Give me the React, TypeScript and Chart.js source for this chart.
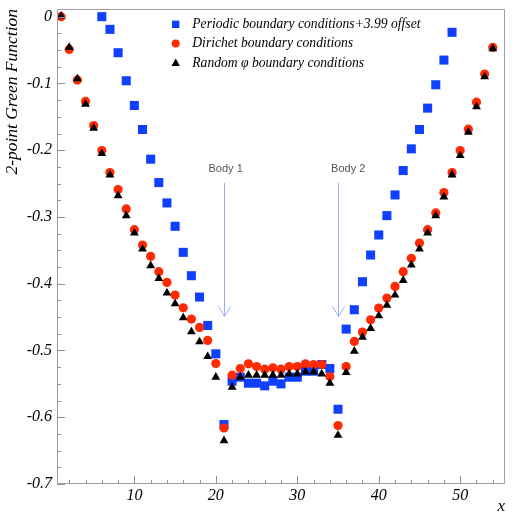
import React, { useEffect, useRef } from 'react';
import { Chart, registerables } from 'chart.js';

Chart.register(...registerables);

// ---- data ----
const xDirichlet = [1, 2, 3, 4, 5, 6, 7, 8, 9, 10, 11, 12, 13, 14, 15, 16, 17, 18, 19, 20, 21, 22, 23, 24, 25, 26, 27, 28, 29, 30, 31, 32, 33, 34, 35, 36, 37, 38, 39, 40, 41, 42, 43, 44, 45, 46, 47, 48, 49, 50, 51, 52, 53, 54];
const yDirichlet = [0, -0.049, -0.095, -0.127, -0.163, -0.2005, -0.2335, -0.259, -0.288, -0.319, -0.342, -0.359, -0.382, -0.398, -0.417, -0.436, -0.453, -0.4655, -0.485, -0.5195, -0.616, -0.537, -0.527, -0.52, -0.524, -0.528, -0.526, -0.528, -0.524, -0.524, -0.52, -0.521, -0.521, -0.539, -0.6125, -0.524, -0.4865, -0.4725, -0.454, -0.4365, -0.4215, -0.404, -0.382, -0.362, -0.339, -0.319, -0.294, -0.2635, -0.2335, -0.2005, -0.1685, -0.128, -0.086, -0.046];

const xRandom = [1, 2, 3, 4, 5, 6, 7, 8, 9, 10, 11, 12, 13, 14, 15, 16, 17, 18, 19, 20, 21, 22, 23, 24, 25, 26, 27, 28, 29, 30, 31, 32, 33, 34, 35, 36, 37, 38, 39, 40, 41, 42, 43, 44, 45, 46, 47, 48, 49, 50, 51, 52, 53, 54];
const yRandom = [0.001, -0.046, -0.093, -0.131, -0.167, -0.205, -0.237, -0.268, -0.298, -0.324, -0.348, -0.373, -0.392, -0.414, -0.43, -0.451, -0.472, -0.487, -0.509, -0.54, -0.635, -0.555, -0.54, -0.537, -0.537, -0.537, -0.537, -0.537, -0.535, -0.535, -0.532, -0.532, -0.535, -0.549, -0.627, -0.533, -0.501, -0.48, -0.467, -0.448, -0.432, -0.417, -0.395, -0.372, -0.348, -0.324, -0.298, -0.27, -0.237, -0.208, -0.173, -0.135, -0.09, -0.048];

const xPeriodic = [6, 7, 8, 9, 10, 11, 12, 13, 14, 15, 16, 17, 18, 19, 20, 21, 22, 23, 24, 25, 26, 27, 28, 29, 30, 31, 32, 33, 34, 35, 36, 37, 38, 39, 40, 41, 42, 43, 44, 45, 46, 47, 48, 49];
const yPeriodic = [0, -0.019, -0.054, -0.096, -0.133, -0.169, -0.2135, -0.2485, -0.279, -0.314, -0.353, -0.388, -0.42, -0.4625, -0.505, -0.611, -0.546, -0.54, -0.549, -0.549, -0.553, -0.546, -0.55, -0.54, -0.54, -0.531, -0.531, -0.521, -0.527, -0.588, -0.468, -0.439, -0.397, -0.357, -0.327, -0.298, -0.267, -0.2305, -0.198, -0.169, -0.137, -0.102, -0.065, -0.0234];

const seriesLabels = [
  'Periodic boundary conditions+3.99 offset',
  'Dirichet boundary conditions',
  'Random \u03c6 boundary conditions',
];
const seriesColors = ['#1040ff', '#ff2a00', '#000000'];

const xMajorTicks = [10, 20, 30, 40, 50];
const yMajorTicks = [0, -0.1, -0.2, -0.3, -0.4, -0.5, -0.6, -0.7];

const bodyLabels = ['Body 1', 'Body 2'];
const bodyX = [21, 35];
const bodyLabelX = [19.1, 34.15];
const bodyLabelY = -0.232;
const arrowTopY = -0.249;
const arrowTipY = -0.449;

const X_MIN = 0.5;
const X_MAX = 55.5;
const Y_MIN = -0.7;
const Y_MAX = 0.0115;

const SERIF = '"Liberation Serif", "Times New Roman", serif';

const toPoints = (xs: number[], ys: number[]) => xs.map((x, i) => ({ x, y: ys[i] }));

const framePlugin = {
  id: 'frameTicks',
  afterDraw(chart: any) {
    const { ctx, chartArea } = chart;
    const xs = chart.scales.x;
    const ys = chart.scales.y;
    const { left, right, top, bottom } = chartArea;
    ctx.save();
    ctx.strokeStyle = '#a0a0a0';
    ctx.lineWidth = 1;
    ctx.beginPath();
    ctx.rect(left + 0.5, top + 0.5, right - left - 1, bottom - top - 1);
    ctx.stroke();
    ctx.strokeStyle = '#909090';
    ctx.beginPath();
    // y ticks: major every 0.1, minor every 0.025
    for (let k = 0; k <= 28; k++) {
      const v = -k * 0.025;
      const py = Math.round(ys.getPixelForValue(v)) + 0.5;
      const len = k % 4 === 0 ? 8 : 4;
      ctx.moveTo(left, py);
      ctx.lineTo(left + len, py);
    }
    // x ticks: major every 10, minor every 2
    for (let v = 2; v <= 54; v += 2) {
      const px = Math.round(xs.getPixelForValue(v)) + 0.5;
      const len = v % 10 === 0 ? 8 : 4;
      ctx.moveTo(px, bottom);
      ctx.lineTo(px, bottom - len);
    }
    ctx.stroke();

    // body arrows
    ctx.strokeStyle = '#9cadff';
    ctx.beginPath();
    bodyX.forEach((bx) => {
      const px = Math.round(xs.getPixelForValue(bx)) + 0.5;
      const y0 = ys.getPixelForValue(arrowTopY);
      const y1 = ys.getPixelForValue(arrowTipY);
      ctx.moveTo(px, y0);
      ctx.lineTo(px, y1);
      ctx.moveTo(px - 6, y1 - 10);
      ctx.lineTo(px, y1);
      ctx.lineTo(px + 6, y1 - 10);
    });
    ctx.stroke();
    ctx.fillStyle = '#555555';
    ctx.font = '11px "Liberation Sans", Arial, sans-serif';
    ctx.textAlign = 'left';
    ctx.textBaseline = 'alphabetic';
    bodyLabels.forEach((t, i) => {
      ctx.fillText(t, xs.getPixelForValue(bodyLabelX[i]), ys.getPixelForValue(bodyLabelY));
    });

    // legend
    const lx = 175.7;
    const rows = [24.3, 43.5, 62.8];
    ctx.fillStyle = seriesColors[0];
    ctx.fillRect(lx - 3.7, rows[0] - 3.7, 7.4, 7.4);
    ctx.fillStyle = seriesColors[1];
    ctx.beginPath();
    ctx.arc(lx, rows[1], 4, 0, Math.PI * 2);
    ctx.fill();
    ctx.fillStyle = seriesColors[2];
    ctx.beginPath();
    ctx.moveTo(lx, rows[2] - 4.2);
    ctx.lineTo(lx + 4.2, rows[2] + 3.2);
    ctx.lineTo(lx - 4.2, rows[2] + 3.2);
    ctx.closePath();
    ctx.fill();
    ctx.fillStyle = '#000';
    ctx.font = `italic 13.6px ${SERIF}`;
    ctx.textBaseline = 'alphabetic';
    seriesLabels.forEach((t, i) => {
      ctx.fillText(t, 192.3, rows[i] + 3.8);
    });
    ctx.restore();
  },
};

const zeroPad = (s: any) => {
  s.paddingTop = 0;
  s.paddingBottom = 0;
  s.paddingLeft = 0;
  s.paddingRight = 0;
};

export default function App() {
  const ref = useRef<HTMLCanvasElement | null>(null);
  useEffect(() => {
    if (!ref.current) return;
    const tickFont = { family: SERIF, style: 'italic' as const, size: 16 };
    const chart = new Chart(ref.current, {
      type: 'scatter',
      data: {
        datasets: [
          {
            label: seriesLabels[2],
            data: toPoints(xRandom, yRandom),
            pointStyle: 'triangle',
            pointRadius: 5.1,
            backgroundColor: seriesColors[2],
            borderColor: seriesColors[2],
            borderWidth: 0,
            order: 1,
          },
          {
            label: seriesLabels[1],
            data: toPoints(xDirichlet, yDirichlet),
            pointStyle: 'circle',
            pointRadius: 4.6,
            backgroundColor: seriesColors[1],
            borderColor: seriesColors[1],
            borderWidth: 0,
            order: 2,
          },
          {
            label: seriesLabels[0],
            data: toPoints(xPeriodic, yPeriodic),
            pointStyle: 'rect',
            pointRadius: 6.4,
            backgroundColor: seriesColors[0],
            borderColor: seriesColors[0],
            borderWidth: 0,
            order: 3,
          },
        ],
      },
      options: {
        animation: false,
        responsive: false,
        layout: { padding: { top: 9, right: 10, left: 0, bottom: 0 } },
        plugins: { legend: { display: false }, tooltip: { enabled: false } },
        scales: {
          x: {
            type: 'linear',
            min: X_MIN,
            max: X_MAX,
            grid: { display: false, drawTicks: false },
            border: { display: false },
            afterBuildTicks: (s: any) => {
              s.ticks = xMajorTicks.map((v) => ({ value: v }));
            },
            afterFit: (s: any) => {
              s.height = 31;
              zeroPad(s);
            },
            ticks: {
              padding: 2,
              font: tickFont,
              color: '#000',
              maxRotation: 0,
              autoSkip: false,
              callback: (v: any) => String(v),
            },
            title: {
              display: true,
              text: 'x',
              align: 'end',
              color: '#000',
              font: { family: SERIF, style: 'italic', size: 17, lineHeight: 1 },
              padding: { top: 0, bottom: 0 },
            },
          },
          y: {
            type: 'linear',
            min: Y_MIN,
            max: Y_MAX,
            grid: { display: false, drawTicks: false },
            border: { display: false },
            afterBuildTicks: (s: any) => {
              s.ticks = yMajorTicks.map((v) => ({ value: v }));
            },
            afterFit: (s: any) => {
              s.width = 57;
              zeroPad(s);
            },
            ticks: {
              padding: 5,
              font: tickFont,
              color: '#000',
              autoSkip: false,
              callback: (v: any) => (Math.abs(v) < 1e-9 ? '0' : Number(v).toFixed(1)),
            },
            title: {
              display: true,
              text: '2-point Green Function',
              align: 'end',
              color: '#000',
              font: { family: SERIF, style: 'italic', size: 17.5, lineHeight: 1.2 },
              padding: { top: 2, bottom: 0 },
            },
          },
        },
      },
      plugins: [framePlugin],
    });
    return () => chart.destroy();
  }, []);
  return (
    <div style={{ position: 'absolute', left: 0, top: 0, width: 515, height: 515, background: '#fff' }}>
      <canvas ref={ref} width={515} height={515} style={{ display: 'block', width: 515, height: 515 }} />
    </div>
  );
}
